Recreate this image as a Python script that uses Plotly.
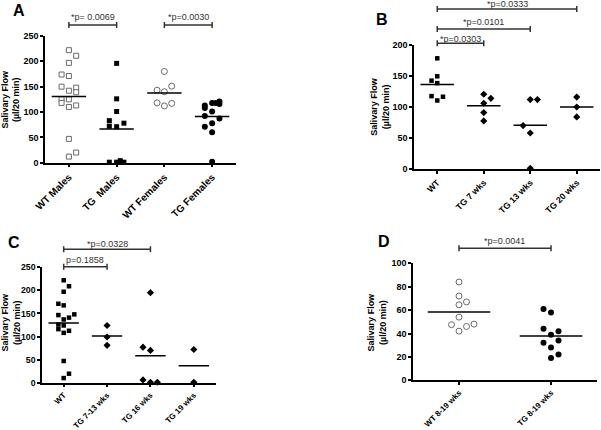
import numpy as np
import plotly.graph_objects as go

# ------------------------------------------------------------------ data
a_categories = ["WT Males", "TG\u00a0\u00a0Males", "WT Females", "TG Females"]
a_wt_males = [222, 211, 197, 174, 171, 150, 148, 142, 139, 125, 118, 125, 110, 113, 47, 20, 12]
a_tg_males = [196, 126, 101, 83, 72, 71, 78, 1, 1, 4, 1]
a_wt_females = [180, 143, 140, 151, 118, 112, 117]
a_tg_females = [113, 108, 118, 118, 121, 116, 101, 92, 87, 78, 71, 60, 2]
a_yticks = [0, 50, 100, 150, 200, 250]
a_pvalues = ["*p= 0.0069", "*p=0.0030"]

b_categories = ["WT", "TG 7 wks", "TG 13 wks", "TG 20 wks"]
b_wt = [179, 143, 150, 139, 118, 111, 117]
b_tg7 = [121, 114.5, 106.5, 91.5, 78]
b_tg13 = [112.5, 112.5, 70.5, 58.5, 1.5]
b_tg20 = [116.5, 100.5, 84.5]
b_yticks = [0, 50, 100, 150, 200]
b_pvalues = ["*p=0.0303", "*p=0.0101", "*p=0.0333"]

c_categories = ["WT", "TG 7-13 wks", "TG 16 wks", "TG 19 wks"]
c_wt = [222, 209, 197, 171, 167.5, 146.5, 137, 141, 148, 126, 124, 116, 112.5, 108, 47, 19.5, 10]
c_tg7_13 = [124, 99, 81]
c_tg16 = [195, 77, 70, 6, 1, 1]
c_tg19 = [72, 1]
c_yticks = [0, 50, 100, 150, 200, 250]
c_pvalues = ["p=0.1858", "*p=0.0328"]

d_categories = ["WT 8-19 wks", "TG 8-19 wks"]
d_wt = [84, 72, 64.5, 67, 54, 47.5, 46, 48, 42]
d_tg = [61, 58, 44, 39, 42, 32, 34, 28, 19, 22]
d_yticks = [0, 20, 40, 60, 80, 100]
d_pvalues = ["*p=0.0041"]

# ------------------------------------------------------------------ layout / style
W, H = 601, 430
FONT = "Arial, Liberation Sans, sans-serif"

# horizontal spreading slots of the scatter columns (presentation only)
a_wt_males_slot = [0, 1, 0, -1, 0, -1, 1, 0, 1, -1, -1, 0, 0, 1, 0, 1, 0]
a_tg_males_slot = [0, 0, 0, -1, -1, 0, 1, -1, 0, 0.5, 1]
a_wt_females_slot = [0, -1, 0, 1, -1, 0, 1]
a_tg_females_slot = [-1, -1, 0, 0.5, 1, 1, 0, -1, 1, 0, -1, 0, 0]
b_wt_slot = [0, -1, 0, 0, -1, 0, 1]
b_tg7_slot = [0, 1.25, 0, 0, 0]
b_tg13_slot = [0, 1.25, -1.25, 0, 0]
b_tg20_slot = [0, 0, 0]
c_wt_slot = [0, 1, 0, -1, 0, -1, 0, 1, 2, -1, 0, -1, 1, 0, 0, 1, 0]
c_tg7_13_slot = [0, 0, 0]
c_tg16_slot = [0, -1.4, 0, -1.4, 0, 1.3]
c_tg19_slot = [0, 0]
d_wt_slot = [0, 0, 0, 1, 0, -1, 1, 2, 0]
d_tg_slot = [-1, 0, -1, 0, 1, -1, 1, 0, 0, 1]

GRAY = "#6a6a6a"
open_sq = dict(symbol="square", size=5, color="white", line=dict(color=GRAY, width=1))
fill_sq = dict(symbol="square", size=5, color="black", line=dict(width=0))
open_ci = dict(symbol="circle", size=6, color="white", line=dict(color=GRAY, width=1))
fill_ci = dict(symbol="circle", size=6, color="black", line=dict(width=0))
small_sq = dict(symbol="square", size=4.5, color="black", line=dict(width=0))
diam = dict(symbol="diamond", size=5.5, color="black", line=dict(width=0))


def px_x(v):
    return v / W


def px_y(v):
    return 1 - v / H


panels = [
    dict(n="", cats=a_categories, yticks=a_yticks, yrange=[0, 250],
         xdom=[px_x(45), px_x(236)], ydom=[px_y(162.7), px_y(36)],
         step=0.153, half=0.36, xfs=10, yfs=9,
         groups=[(a_wt_males, a_wt_males_slot, open_sq), (a_tg_males, a_tg_males_slot, fill_sq),
                 (a_wt_females, a_wt_females_slot, open_ci), (a_tg_females, a_tg_females_slot, fill_ci)],
         brackets=[(0, 1, 25, 16.5, a_pvalues[0]), (2, 3, 25, 16.5, a_pvalues[1])],
         letter=("A", 19, 11), title=(10.5, 99)),
    dict(n="2", cats=b_categories, yticks=b_yticks, yrange=[0, 200],
         xdom=[px_x(414), px_x(600)], ydom=[px_y(169.3), px_y(45.3)],
         step=0.123, half=0.36, xfs=8.8, yfs=9,
         groups=[(b_wt, b_wt_slot, small_sq), (b_tg7, b_tg7_slot, diam),
                 (b_tg13, b_tg13_slot, diam), (b_tg20, b_tg20_slot, diam)],
         brackets=[(0, 1, 43.3, 39, b_pvalues[0]), (0, 2, 29, 22.5, b_pvalues[1]),
                   (0, 3, 9, 4, b_pvalues[2])],
         letter=("B", 382, 19), title=(380, 106.7)),
    dict(n="3", cats=c_categories, yticks=c_yticks, yrange=[0, 250],
         xdom=[px_x(42), px_x(215.5)], ydom=[px_y(382.7), px_y(267.3)],
         step=0.1225, half=0.35, xfs=8, yfs=8.7,
         groups=[(c_wt, c_wt_slot, small_sq), (c_tg7_13, c_tg7_13_slot, diam),
                 (c_tg16, c_tg16_slot, diam), (c_tg19, c_tg19_slot, diam)],
         brackets=[(0, 1, 266.7, 259.5, c_pvalues[0]), (0, 2, 249.3, 243.5, c_pvalues[1])],
         letter=("C", 14, 242.5), title=(10.8, 321.7)),
    dict(n="4", cats=d_categories, yticks=d_yticks, yrange=[0, 100],
         xdom=[px_x(413), px_x(597)], ydom=[px_y(380.3), px_y(263.3)],
         step=0.0815, half=0.34, xfs=8, yfs=9,
         groups=[(d_wt, d_wt_slot, open_ci), (d_tg, d_tg_slot, fill_ci)],
         brackets=[(0, 1, 248.3, 240.5, d_pvalues[0])],
         letter=("D", 383.5, 241.5), title=(376.7, 321.7)),
]

fig = go.Figure()
layout = dict(width=W, height=H, margin=dict(l=0, r=0, t=0, b=0, autoexpand=False),
              paper_bgcolor="white", plot_bgcolor="white", showlegend=False)
annotations = []
shapes = []

for p in panels:
    xa, ya = "x" + p["n"], "y" + p["n"]
    ncat = len(p["cats"])
    for i, (vals, slots, mk) in enumerate(p["groups"]):
        xs = [i + s * p["step"] for s in slots]
        fig.add_trace(go.Scatter(x=xs, y=vals, mode="markers", marker=mk, cliponaxis=False,
                                 xaxis=xa, yaxis=ya, hoverinfo="skip"))
        m = float(np.mean(vals))
        fig.add_trace(go.Scatter(x=[i - p["half"], i + p["half"]], y=[m, m], mode="lines",
                                 line=dict(color="black", width=1.5), xaxis=xa, yaxis=ya,
                                 hoverinfo="skip"))
    axis_common = dict(showline=True, linecolor="black", linewidth=1.5, ticks="outside",
                       ticklen=3, tickwidth=1.5, tickcolor="black", showgrid=False,
                       zeroline=False, fixedrange=True, automargin=False)
    layout["xaxis" + p["n"]] = dict(axis_common, domain=p["xdom"], range=[-0.5, ncat - 0.5],
                                    anchor=ya, tickmode="array", tickvals=list(range(ncat)),
                                    ticktext=p["cats"], tickangle=-45,
                                    tickfont=dict(family=FONT, size=p["xfs"], color="black",
                                                  weight="bold"))
    layout["yaxis" + p["n"]] = dict(axis_common, domain=p["ydom"], range=p["yrange"],
                                    anchor=xa, tickmode="array", tickvals=p["yticks"],
                                    tickfont=dict(family=FONT, size=p["yfs"], color="black",
                                                  weight="bold"))
    for (c0, c1, yb, yt, txt) in p["brackets"]:
        line = dict(color="#333333", width=1.5)
        shapes.append(dict(type="line", xref=xa, yref="paper", x0=c0, x1=c1,
                           y0=px_y(yb), y1=px_y(yb), line=line))
        for c in (c0, c1):
            shapes.append(dict(type="line", xref=xa, yref="paper", x0=c, x1=c,
                               y0=px_y(yb - 3), y1=px_y(yb + 3), line=line))
        annotations.append(dict(xref=xa, yref="paper", x=(c0 + c1) / 2, y=px_y(yt),
                                text=txt, showarrow=False, xanchor="center", yanchor="middle",
                                font=dict(family=FONT, size=9, color="#333333")))
    L, lx, ly = p["letter"]
    annotations.append(dict(xref="paper", yref="paper", x=px_x(lx), y=px_y(ly), text=L,
                            showarrow=False, xanchor="center", yanchor="middle",
                            font=dict(family=FONT, size=16, color="black", weight="bold")))
    tx, ty = p["title"]
    annotations.append(dict(xref="paper", yref="paper", x=px_x(tx), y=px_y(ty),
                            text="Salivary Flow<br>(\u00b5l/20 min)", textangle=-90,
                            showarrow=False, xanchor="center", yanchor="middle",
                            font=dict(family=FONT, size=9, color="black", weight="bold")))

layout["annotations"] = annotations
layout["shapes"] = shapes
fig.update_layout(**layout)
fig.write_html("out.html", config={"displayModeBar": False},
               post_script="document.body.style.margin='0px';document.body.style.padding='0px';")
